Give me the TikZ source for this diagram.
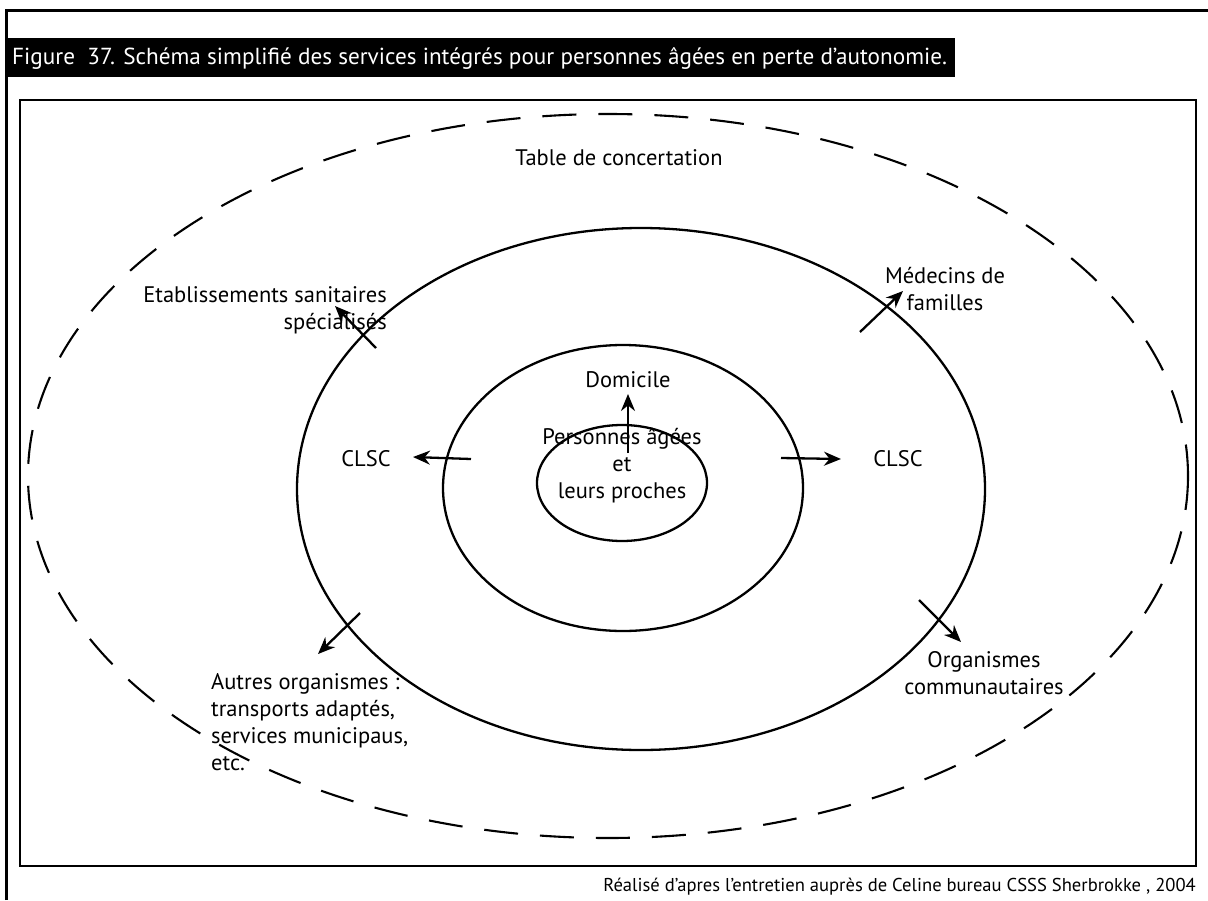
\documentclass[tikz,border=0pt]{standalone}
\usepackage{fontspec}
\setmainfont{PT Sans}
\usetikzlibrary{arrows.meta}
\begin{document}
\begin{tikzpicture}[x=1pt,y=-1pt,
  lbl/.style={font=\fontsize{22.5}{27}\selectfont, inner sep=0pt, align=center},
  ring/.style={line width=2.3pt},
  dring/.style={line width=2.1pt, dash pattern=on 34pt off 22pt},
  arr/.style={line width=2.3pt, -{Stealth[length=17pt,width=14pt]}},
  frame/.style={line width=3pt}]
\useasboundingbox (0,0) rectangle (1208,900);
% page frame
\draw[frame] (6,900) -- (6,10) -- (1208,10);
% title bar
\fill[black] (5,38) rectangle (955,77);
\node[anchor=west, text=white, inner sep=0pt, font=\fontsize{23.2}{26}\selectfont] (title) at (12,58)
  {Figure\ \ 37. Schéma simplifié des services intégrés pour personnes âgées en perte d'autonomie.};
% inner box
\draw[line width=2.6pt] (20,100) rectangle (1196,866);
% caption
\node[anchor=base east, inner sep=0pt, font=\fontsize{18.6}{22}\selectfont] (cap) at (1196,891)
  {Réalisé d’apres l’entretien auprès de Celine bureau CSSS Sherbrokke , 2004};
% ellipses
\draw[dring] (608,476) ellipse [x radius=580, y radius=362];
\draw[ring] (641,489) ellipse [x radius=344, y radius=261];
\draw[ring] (623,488) ellipse [x radius=180, y radius=143];
\draw[ring] (622,483) ellipse [x radius=85, y radius=58];
% labels
\node[lbl] (table) at (619,158) {Table de concertation};
\node[lbl, align=right, anchor=east] (etab) at (387,310) {Etablissements sanitaires\\spécialisés};
\node[lbl] (med) at (945,289) {Médecins de\\familles};
\node[lbl] (dom) at (628,380) {Domicile};
\node[lbl] (pers) at (622,466) {Personnes âgées\\et\\leurs proches};
\node[lbl] (clscl) at (366,459) {CLSC};
\node[lbl] (clscr) at (898,459) {CLSC};
\node[lbl, align=left, anchor=north west] (autres) at (211,673) {Autres organismes :\\transports adaptés,\\services municipaus,\\etc.};
\node[lbl] (org) at (984,673) {Organismes\\communautaires};
% arrow coordinates
\coordinate (d0) at (628,453); \coordinate (d1) at (628,394);
\coordinate (l0) at (471,459); \coordinate (l1) at (413,457);
\coordinate (r0) at (781,458); \coordinate (r1) at (841,459);
\coordinate (e0) at (376,348); \coordinate (e1) at (335,306);
\coordinate (m0) at (860,332); \coordinate (m1) at (903,291);
\coordinate (o0) at (919,600); \coordinate (o1) at (961,642);
\coordinate (a0) at (360,613); \coordinate (a1) at (318,654);
\draw[arr] (d0) -- (d1);
\draw[arr] (l0) -- (l1);
\draw[arr] (r0) -- (r1);
\draw[arr] (e0) -- (e1);
\draw[arr] (m0) -- (m1);
\draw[arr] (o0) -- (o1);
\draw[arr] (a0) -- (a1);
\end{tikzpicture}
\end{document}
